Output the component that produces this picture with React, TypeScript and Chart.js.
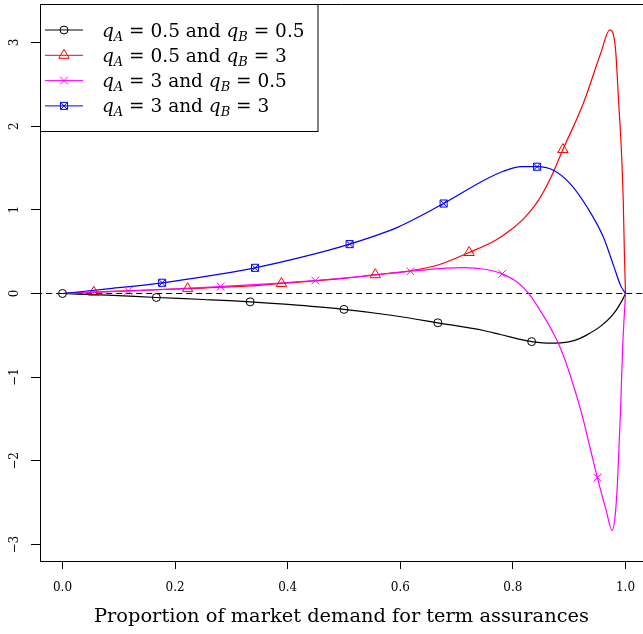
import React, { useEffect, useRef } from "react";
import { Chart, registerables } from "chart.js";
import { drawPoint } from "chart.js/helpers";

Chart.register(...registerables);

// ---------- tick labels & text ----------
const xTicks = [0, 0.2, 0.4, 0.6, 0.8, 1.0];
const xTickLabels = ["0.0", "0.2", "0.4", "0.6", "0.8", "1.0"];
const yTicks = [-3, -2, -1, 0, 1, 2, 3];
const yTickLabels = ["\u22123", "\u22122", "\u22121", "0", "1", "2", "3"];
const xAxisTitle = "Proportion of market demand for term assurances";

const legendQA = ["0.5", "0.5", "3", "3"];
const legendQB = ["0.5", "3", "0.5", "3"];

// ---------- curves ----------
// q_A = 0.5, q_B = 0.5
const blackX = [0, 0.08, 0.1667, 0.25, 0.3333, 0.4167, 0.5, 0.5833, 0.6667, 0.75, 0.778, 0.8333, 0.86, 0.885, 0.91, 0.93, 0.956, 0.979, 0.995, 1];
const blackY = [0, -0.02, -0.048, -0.072, -0.1, -0.14, -0.19, -0.26, -0.35, -0.445, -0.49, -0.575, -0.592, -0.59, -0.56, -0.5, -0.39, -0.24, -0.07, 0];

// q_A = 0.5, q_B = 3
const redX = [0, 0.0556, 0.111, 0.2222, 0.333, 0.3889, 0.5, 0.5556, 0.611, 0.667, 0.7222, 0.77, 0.8, 0.82, 0.845, 0.867, 0.8889, 0.925, 0.956, 0.972, 0.982, 0.988, 0.993, 0.996, 0.998, 1];
const redY = [0, 0.016, 0.032, 0.058, 0.09, 0.12, 0.18, 0.225, 0.265, 0.34, 0.49, 0.64, 0.78, 0.9, 1.11, 1.38, 1.72, 2.27, 2.87, 3.15, 2.94, 2.27, 1.67, 1.11, 0.5, 0];

// q_A = 3, q_B = 0.5
const magentaX = [0, 0.05, 0.117, 0.2, 0.281, 0.365, 0.449, 0.533, 0.618, 0.67, 0.714, 0.75, 0.781, 0.808, 0.828, 0.85, 0.87, 0.885, 0.903, 0.922, 0.937, 0.95, 0.966, 0.976, 0.982, 0.986, 0.991, 0.995, 1];
const magentaY = [0, 0.013, 0.03, 0.055, 0.083, 0.115, 0.155, 0.205, 0.266, 0.298, 0.31, 0.29, 0.235, 0.135, 0, -0.22, -0.45, -0.66, -1.0, -1.43, -1.84, -2.2, -2.6, -2.83, -2.63, -2.23, -1.43, -0.64, 0];

// q_A = 3, q_B = 3
const blueX = [0, 0.08, 0.177, 0.26, 0.342, 0.425, 0.51, 0.595, 0.677, 0.748, 0.783, 0.815, 0.843, 0.873, 0.902, 0.932, 0.961, 0.979, 0.991, 1];
const blueY = [0, 0.055, 0.128, 0.21, 0.307, 0.434, 0.59, 0.79, 1.075, 1.35, 1.46, 1.515, 1.515, 1.47, 1.31, 1.03, 0.67, 0.33, 0.1, 0];

// ---------- markers ----------
const blackMarkX = [0, 0.1667, 0.3333, 0.5, 0.6667, 0.8333];
const blackMarkY = [0, -0.048, -0.1, -0.19, -0.35, -0.575];
const redMarkX = [0.0556, 0.2222, 0.3889, 0.5556, 0.7222, 0.8889];
const redMarkY = [0.016, 0.058, 0.12, 0.225, 0.49, 1.72];
const magentaMarkX = [0.117, 0.281, 0.449, 0.618, 0.781, 0.95];
const magentaMarkY = [0.03, 0.083, 0.155, 0.266, 0.235, -2.2];
const blueMarkX = [0.177, 0.342, 0.51, 0.677, 0.843];
const blueMarkY = [0.128, 0.307, 0.59, 1.075, 1.515];

const zeroLineX = [-0.1, 1.1];
const zeroLineY = [0, 0];

const colors = ["#000000", "#FF0000", "#FF00FF", "#0000FF"];
const FONT = "'DejaVu Serif'";

const pts = (xs: number[], ys: number[]) => xs.map((x, i) => ({ x, y: ys[i] }));

function legendMarker(ctx: CanvasRenderingContext2D, i: number, x: number, y: number) {
  ctx.save();
  ctx.strokeStyle = colors[i];
  ctx.fillStyle = "rgba(0,0,0,0)";
  ctx.lineWidth = 1;
  const opts: any = { borderWidth: 1, rotation: 0 };
  if (i === 0) drawPoint(ctx, { ...opts, pointStyle: "circle", radius: 4 }, x, y);
  if (i === 1) drawPoint(ctx, { ...opts, pointStyle: "triangle", radius: 6 }, x, y);
  if (i === 2) drawPoint(ctx, { ...opts, pointStyle: "crossRot", radius: 5.5 }, x, y);
  if (i === 3) {
    drawPoint(ctx, { ...opts, pointStyle: "rect", radius: 5 }, x, y);
    drawPoint(ctx, { ...opts, pointStyle: "crossRot", radius: 5 }, x, y);
  }
  ctx.restore();
}

const overlayPlugin = {
  id: "overlay",
  afterDraw(chart: any) {
    const ctx: CanvasRenderingContext2D = chart.ctx;
    const { left, right, top, bottom } = chart.chartArea;
    const ys = chart.scales.y;
    const xs = chart.scales.x;
    ctx.save();
    // top border of the box
    ctx.strokeStyle = "#000";
    ctx.lineWidth = 1;
    ctx.beginPath();
    ctx.moveTo(left, top + 0.5);
    ctx.lineTo(right, top + 0.5);
    ctx.stroke();

    ctx.fillStyle = "#000";
    ctx.font = `12px ${FONT}`;
    ctx.textAlign = "center";
    ctx.textBaseline = "middle";
    // x tick labels
    xTicks.forEach((v, i) => {
      ctx.fillText(xTickLabels[i], xs.getPixelForValue(v), bottom + 26.5);
    });
    // rotated y tick labels
    yTicks.forEach((v, i) => {
      const py = ys.getPixelForValue(v);
      ctx.save();
      ctx.translate(left - 25, py);
      ctx.rotate(-Math.PI / 2);
      ctx.fillText(yTickLabels[i], 0, 0);
      ctx.restore();
    });

    // legend
    const bx = left + 0.5;
    const by = top + 0.5;
    const bw = 277.5;
    const bh = 127;
    ctx.fillStyle = "#fff";
    ctx.fillRect(bx, by, bw, bh);
    ctx.strokeStyle = "#000";
    ctx.strokeRect(bx, by, bw, bh);

    ctx.textAlign = "left";
    ctx.textBaseline = "alphabetic";
    for (let i = 0; i < 4; i++) {
      const ry = top + 26 + i * 25.3;
      ctx.strokeStyle = colors[i];
      ctx.lineWidth = 1;
      ctx.beginPath();
      ctx.moveTo(left + 5, ry);
      ctx.lineTo(left + 43, ry);
      ctx.stroke();
      legendMarker(ctx, i, left + 24, ry);

      const base = ry + 6.5;
      let cx = left + 62;
      const parts: { t: string; f: string; dy: number }[] = [
        { t: "q", f: `italic 18.5px ${FONT}`, dy: 0 },
        { t: "A", f: `italic 13px ${FONT}`, dy: 4 },
        { t: " = " + legendQA[i] + " and ", f: `18.5px ${FONT}`, dy: 0 },
        { t: "q", f: `italic 18.5px ${FONT}`, dy: 0 },
        { t: "B", f: `italic 13px ${FONT}`, dy: 4 },
        { t: " = " + legendQB[i], f: `18.5px ${FONT}`, dy: 0 },
      ];
      ctx.fillStyle = "#000";
      for (const p of parts) {
        ctx.font = p.f;
        ctx.fillText(p.t, cx, base + p.dy);
        cx += ctx.measureText(p.t).width;
      }
    }
    ctx.restore();
  },
};

export default function App() {
  const ref = useRef<HTMLCanvasElement>(null);
  useEffect(() => {
    const canvas = ref.current!;
    const curve = (xs: number[], ys: number[], i: number, label: string) => ({
      label,
      data: pts(xs, ys),
      showLine: true,
      borderColor: colors[i],
      borderWidth: 1.2,
      pointRadius: 0,
      cubicInterpolationMode: "monotone" as const,
    });
    const marks = (xs: number[], ys: number[], i: number, style: string, r: number, label: string) => ({
      label,
      data: pts(xs, ys),
      showLine: false,
      pointStyle: style,
      pointRadius: r,
      pointBorderColor: colors[i],
      pointBackgroundColor: "rgba(0,0,0,0)",
      pointBorderWidth: 1,
    });
    const chart = new Chart(canvas, {
      type: "scatter",
      data: {
        datasets: [
          marks(blueMarkX, blueMarkY, 3, "crossRot", 5, "qA = 3 and qB = 3 markers x"),
          marks(blueMarkX, blueMarkY, 3, "rect", 5, "qA = 3 and qB = 3 markers"),
          marks(magentaMarkX, magentaMarkY, 2, "crossRot", 5.5, "qA = 3 and qB = 0.5 markers"),
          marks(redMarkX, redMarkY, 1, "triangle", 6, "qA = 0.5 and qB = 3 markers"),
          marks(blackMarkX, blackMarkY, 0, "circle", 4, "qA = 0.5 and qB = 0.5 markers"),
          curve(blueX, blueY, 3, "qA = 3 and qB = 3"),
          curve(magentaX, magentaY, 2, "qA = 3 and qB = 0.5"),
          curve(redX, redY, 1, "qA = 0.5 and qB = 3"),
          curve(blackX, blackY, 0, "qA = 0.5 and qB = 0.5"),
          {
            label: "zero",
            data: pts(zeroLineX, zeroLineY),
            showLine: true,
            borderColor: "#000",
            borderWidth: 1,
            borderDash: [6, 4],
            pointRadius: 0,
          },
        ] as any,
      },
      options: {
        animation: false,
        responsive: false,
        devicePixelRatio: 1,
        events: [],
        layout: { autoPadding: false, padding: { top: 4, left: 0, right: 0, bottom: 0 } },
        plugins: { legend: { display: false }, tooltip: { enabled: false } },
        scales: {
          x: {
            type: "linear",
            min: -0.03996,
            max: 1.0311,
            afterBuildTicks: (s: any) => {
              s.ticks = xTicks.map((v) => ({ value: v }));
            },
            afterFit: (s: any) => {
              s.height = 73;
              s.paddingLeft = 0;
              s.paddingRight = 0;
            },
            ticks: { display: false },
            grid: { drawOnChartArea: false, drawTicks: true, tickLength: 8, color: "#000", lineWidth: 1 },
            border: { display: true, color: "#000", width: 1 },
            title: {
              display: true,
              text: xAxisTitle,
              color: "#000",
              font: { family: FONT, size: 19.4 },
              padding: { top: 0, bottom: 5 },
            },
          },
          y: {
            type: "linear",
            min: -3.196,
            max: 3.4588,
            afterBuildTicks: (s: any) => {
              s.ticks = yTicks.map((v) => ({ value: v }));
            },
            afterFit: (s: any) => {
              s.width = 40;
              s.paddingTop = 0;
              s.paddingBottom = 0;
            },
            ticks: { display: false },
            grid: { drawOnChartArea: false, drawTicks: true, tickLength: 9, color: "#000", lineWidth: 1 },
            border: { display: true, color: "#000", width: 1 },
          },
        },
      } as any,
      plugins: [overlayPlugin],
    });
    return () => chart.destroy();
  }, []);
  return (
    <div style={{ position: "absolute", left: 0, top: 0, width: 643, height: 634, background: "#fff", overflow: "hidden" }}>
      <canvas ref={ref} width={643} height={634} style={{ display: "block" }} />
    </div>
  );
}
